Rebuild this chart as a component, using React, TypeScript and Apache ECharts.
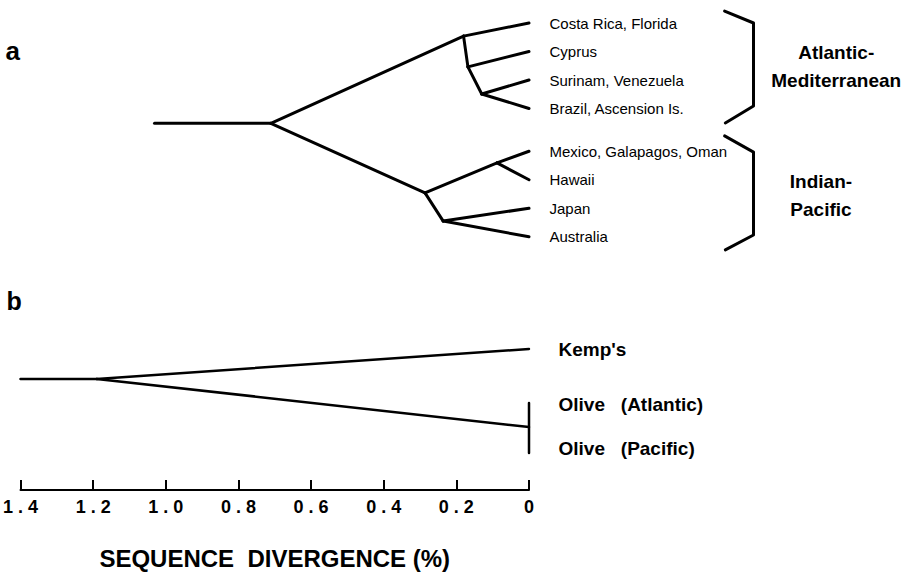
import React, { useEffect, useRef } from "react";
import * as echarts from "echarts";

const FONT = "'Liberation Sans', Arial, Helvetica, sans-serif";

// ---------- Panel a: mtDNA tree of green turtle rookeries ----------
const nodeNamesA = [
  "root", "n0", "nAtl", "nCy", "nSB", "nInd", "nMH", "nJA",
  "Costa Rica, Florida", "Cyprus", "Surinam, Venezuela", "Brazil, Ascension Is.",
  "Mexico, Galapagos, Oman", "Hawaii", "Japan", "Australia",
];
const nodeXA = [1.03, 0.71, 0.18, 0.168, 0.13, 0.286, 0.088, 0.236, 0, 0, 0, 0, 0, 0, 0, 0];
const nodeYA = [3.52, 3.52, 0.46, 1.54, 2.49, 5.96, 4.91, 6.95, 0, 1, 2, 3, 4.5, 5.5, 6.5, 7.5];
const edgesA: [string, string][] = [
  ["root", "n0"],
  ["n0", "nAtl"],
  ["nAtl", "Costa Rica, Florida"],
  ["nAtl", "nCy"],
  ["nCy", "Cyprus"],
  ["nCy", "nSB"],
  ["nSB", "Surinam, Venezuela"],
  ["nSB", "Brazil, Ascension Is."],
  ["n0", "nInd"],
  ["nInd", "nMH"],
  ["nMH", "Mexico, Galapagos, Oman"],
  ["nMH", "Hawaii"],
  ["nInd", "nJA"],
  ["nJA", "Japan"],
  ["nJA", "Australia"],
];
const leavesA = [
  "Costa Rica, Florida", "Cyprus", "Surinam, Venezuela", "Brazil, Ascension Is.",
  "Mexico, Galapagos, Oman", "Hawaii", "Japan", "Australia",
];

const bracketAtlX = [-0.538, -0.6175, -0.6175, -0.54];
const bracketAtlY = [-0.42, 0, 2.91, 3.51];
const bracketIndX = [-0.538, -0.6175, -0.6175, -0.54];
const bracketIndY = [3.96, 4.53, 7.44, 7.96];

const groupNames = ["Atlantic-\nMediterranean", "Indian-\nPacific"];
const groupX = [-0.845, -0.803];
const groupY = [1.51, 6.07];

// ---------- Panel b: Kemp's vs olive ridley ----------
const nodeNamesB = ["root", "node", "Kemp's", "Olive"];
const nodeXB = [1.4, 1.19, 0, 0];
const nodeYB = [1.15, 1.15, 0, 3];
const edgesB: [string, string][] = [
  ["root", "node"],
  ["node", "Kemp's"],
  ["node", "Olive"],
];
const oliveBarX = [0, 0];
const oliveBarY = [2.08, 4];
const labelsB = ["Kemp's", "Olive   (Atlantic)", "Olive   (Pacific)"];
const labelXB = [0, 0, 0];
const labelYB = [0, 2.12, 3.81];

// ---------- Axis ----------
const tickValues = [1.4, 1.2, 1.0, 0.8, 0.6, 0.4, 0.2, 0];
const tickLabels = ["1.4", "1.2", "1.0", "0.8", "0.6", "0.4", "0.2", "0"];
const axisTitle = "SEQUENCE  DIVERGENCE (%)";

export default function App() {
  const ref = useRef<HTMLDivElement>(null);

  useEffect(() => {
    if (!ref.current) return;
    const chart = echarts.init(ref.current, undefined, { renderer: "svg" });

    const W = 911;
    const gridLeft = 20;
    const gridBRight = 382;
    const widthB = W - gridLeft - gridBRight; // 1.4 units
    const pxPerUnit = widthB / 1.4;
    const aMin = 1.4 - (W - gridLeft) / pxPerUnit;

    const idxA = (n: string) => nodeNamesA.indexOf(n);
    const idxB = (n: string) => nodeNamesB.indexOf(n);

    const lineBase = (xi: number, width: number) => ({
      type: "line" as const,
      xAxisIndex: xi,
      yAxisIndex: xi,
      symbol: "none",
      silent: true,
      clip: false,
      lineStyle: { color: "#000", width, cap: "round" as const, join: "round" as const },
    });

    const hiddenPoint = { color: "rgba(0,0,0,0)", opacity: 1 };

    const series: any[] = [];
    edgesA.forEach(([p, c]) => {
      const a = idxA(p);
      const b = idxA(c);
      series.push({
        ...lineBase(0, 3),
        data: [
          [nodeXA[a], nodeYA[a]],
          [nodeXA[b], nodeYA[b]],
        ],
      });
    });
    series.push({
      ...lineBase(0, 3),
      data: bracketAtlX.map((x, i) => [x, bracketAtlY[i]]),
    });
    series.push({
      ...lineBase(0, 3),
      data: bracketIndX.map((x, i) => [x, bracketIndY[i]]),
    });
    series.push({
      type: "scatter",
      xAxisIndex: 0,
      yAxisIndex: 0,
      silent: true,
      clip: false,
      symbolSize: 1,
      itemStyle: hiddenPoint,
      data: leavesA.map((n) => ({ name: n, value: [nodeXA[idxA(n)], nodeYA[idxA(n)]] })),
      label: {
        show: true,
        position: "right",
        distance: 20,
        formatter: "{b}",
        color: "#000",
        opacity: 1,
        fontFamily: FONT,
        fontSize: 15,
      },
    });
    series.push({
      type: "scatter",
      xAxisIndex: 0,
      yAxisIndex: 0,
      silent: true,
      clip: false,
      symbolSize: 1,
      itemStyle: hiddenPoint,
      data: groupNames.map((n, i) => ({ name: n, value: [groupX[i], groupY[i]] })),
      label: {
        show: true,
        position: "inside",
        align: "center",
        verticalAlign: "middle",
        formatter: "{b}",
        color: "#000",
        opacity: 1,
        fontFamily: FONT,
        fontSize: 19,
        fontWeight: "bold",
        lineHeight: 28,
      },
    });

    edgesB.forEach(([p, c]) => {
      const a = idxB(p);
      const b = idxB(c);
      series.push({
        ...lineBase(1, 2.5),
        data: [
          [nodeXB[a], nodeYB[a]],
          [nodeXB[b], nodeYB[b]],
        ],
      });
    });
    series.push({
      ...lineBase(1, 2.5),
      data: oliveBarX.map((x, i) => [x, oliveBarY[i]]),
    });
    series.push({
      type: "scatter",
      xAxisIndex: 1,
      yAxisIndex: 1,
      silent: true,
      clip: false,
      symbolSize: 1,
      itemStyle: hiddenPoint,
      data: labelsB.map((n, i) => ({ name: n, value: [labelXB[i], labelYB[i]] })),
      label: {
        show: true,
        position: "right",
        distance: 29,
        formatter: "{b}",
        color: "#000",
        opacity: 1,
        fontFamily: FONT,
        fontSize: 19,
        fontWeight: "bold",
      },
    });

    chart.setOption({
      animation: false,
      backgroundColor: "#fff",
      grid: [
        { left: gridLeft, right: 0, top: 0.2, height: 256.5 },
        { left: gridLeft, right: gridBRight, top: 349, height: 104 },
      ],
      xAxis: [
        { type: "value", gridIndex: 0, min: aMin, max: 1.4, inverse: true, show: false },
        {
          type: "value",
          gridIndex: 1,
          position: "bottom",
          min: 0,
          max: 1.4,
          interval: 0.2,
          inverse: true,
          offset: 37,
          splitLine: { show: false },
          axisLine: { show: true, onZero: false, lineStyle: { color: "#000", width: 2 } },
          axisTick: { show: true, inside: true, length: 10, lineStyle: { color: "#000", width: 2 } },
          axisLabel: {
            show: true,
            margin: 8,
            showMinLabel: true,
            showMaxLabel: true,
            color: "#000",
            fontFamily: FONT,
            fontSize: 18,
            fontWeight: "bold",
            formatter: (v: number) => {
              const i = tickValues.findIndex((t) => Math.abs(t - v) < 1e-6);
              return i >= 0 ? tickLabels[i].split("").join(" ") : "";
            },
          },
          name: axisTitle,
          nameLocation: "middle",
          nameGap: 56,
          nameTextStyle: { color: "#000", fontFamily: FONT, fontSize: 24, fontWeight: "bold" },
        },
      ],
      yAxis: [
        { type: "value", gridIndex: 0, min: -0.8, max: 8.2, inverse: true, show: false },
        { type: "value", gridIndex: 1, min: 0, max: 4, inverse: true, show: false },
      ],
      graphic: [
        {
          type: "text",
          left: 5.5,
          top: 38,
          style: { text: "a", fontFamily: FONT, fontSize: 26, fontWeight: "bold", fill: "#000" },
        },
        {
          type: "text",
          left: 6.5,
          top: 288,
          style: { text: "b", fontFamily: FONT, fontSize: 25, fontWeight: "bold", fill: "#000" },
        },
      ],
      series,
    });

    return () => chart.dispose();
  }, []);

  return (
    <div
      ref={ref}
      style={{ position: "absolute", left: 0, top: 0, width: 911, height: 572, background: "#fff" }}
    />
  );
}
